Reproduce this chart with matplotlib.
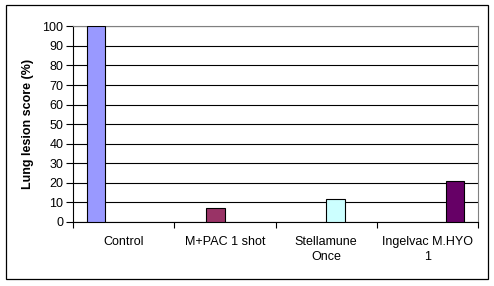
import matplotlib
matplotlib.use("Agg")
import matplotlib.pyplot as plt
from matplotlib.patches import Rectangle

categories = ["Control", "M+PAC 1 shot", "Stellamune\nOnce", "Ingelvac M.HYO\n1"]
values = [100, 7, 12, 21]
colors = ["#9999FF", "#993366", "#CCFFFF", "#660066"]
yticks = list(range(0, 101, 10))

plt.rcParams['font.family'] = ['Liberation Sans', 'DejaVu Sans']

fig = plt.figure(figsize=(4.94, 2.86), dpi=100)
ax = fig.add_axes([73/494, 1-222/286, (478-73)/494, (222-26.3)/286])

n = len(categories)
slots = n + 1.5
w = 1/slots
for i, (v, c) in enumerate(zip(values, colors)):
    x = i + (0.75 + i + 0.5) * w
    ax.bar(x, v, width=w, color=c, edgecolor="black", linewidth=0.8, zorder=3)

ax.set_xlim(0, n)
ax.set_ylim(0, 100)
ax.set_yticks(yticks)
ax.set_yticklabels([str(t) for t in yticks], fontsize=9)
ax.yaxis.grid(True, color="black", linewidth=0.8, zorder=0)
ax.set_axisbelow(True)

ax.set_xticks(range(n + 1))
ax.set_xticklabels([])
ax.set_xticks([i + 0.5 for i in range(n)], minor=True)
ax.set_xticklabels(categories, minor=True, fontsize=9, linespacing=1.4)
ax.tick_params(axis='x', which='major', length=4, width=0.8, color="black", direction='out')
ax.tick_params(axis='x', which='minor', length=0, pad=10)
ax.tick_params(axis='y', length=5, width=0.8, pad=2)

ax.spines['left'].set_color('black')
ax.spines['bottom'].set_color('black')
ax.spines['top'].set_color('#808080')
ax.spines['right'].set_color('#808080')
for s in ax.spines.values():
    s.set_linewidth(0.8)

ax.set_ylabel("Lung lesion score (%)", fontsize=9, fontweight='bold', labelpad=6)

fig.patches.append(Rectangle((5.7/494, 1-279.3/286), (487.7-5.7)/494, (279.3-5)/286,
                             transform=fig.transFigure, fill=False, edgecolor='black', linewidth=0.9))

fig.savefig("out.png", dpi=100)
